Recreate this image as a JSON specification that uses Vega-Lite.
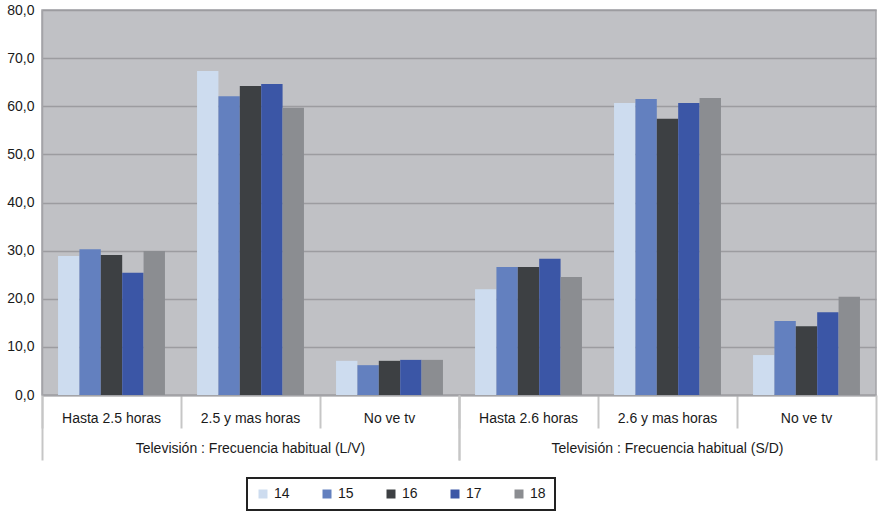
{
  "$schema": "https://vega.github.io/schema/vega-lite/v6.json",
  "width": 834,
  "height": 385,
  "autosize": {"type": "none"},
  "padding": {"left": 42, "top": 10, "right": 3, "bottom": 118},
  "background": "white",
  "config": {
    "font": "Liberation Sans",
    "view": {"fill": "#c0c1c5", "stroke": "#a3a3a7", "strokeWidth": 1.5},
    "axis": {"labelFont": "Liberation Sans", "labelFontSize": 14, "labelColor": "#1a1a1a", "title": null},
    "legend": {"strokeWidth": 2}
  },
  "data": {
    "values": [
      {"cat": "1|Hasta 2.5 horas", "grupo": "Televisión : Frecuencia habitual (L/V)", "serie": "14", "valor": 28.9},
      {"cat": "1|Hasta 2.5 horas", "grupo": "Televisión : Frecuencia habitual (L/V)", "serie": "15", "valor": 30.3},
      {"cat": "1|Hasta 2.5 horas", "grupo": "Televisión : Frecuencia habitual (L/V)", "serie": "16", "valor": 29.1},
      {"cat": "1|Hasta 2.5 horas", "grupo": "Televisión : Frecuencia habitual (L/V)", "serie": "17", "valor": 25.4},
      {"cat": "1|Hasta 2.5 horas", "grupo": "Televisión : Frecuencia habitual (L/V)", "serie": "18", "valor": 29.9},
      {"cat": "2|2.5 y mas horas", "grupo": "Televisión : Frecuencia habitual (L/V)", "serie": "14", "valor": 67.3},
      {"cat": "2|2.5 y mas horas", "grupo": "Televisión : Frecuencia habitual (L/V)", "serie": "15", "valor": 62.1},
      {"cat": "2|2.5 y mas horas", "grupo": "Televisión : Frecuencia habitual (L/V)", "serie": "16", "valor": 64.2},
      {"cat": "2|2.5 y mas horas", "grupo": "Televisión : Frecuencia habitual (L/V)", "serie": "17", "valor": 64.6},
      {"cat": "2|2.5 y mas horas", "grupo": "Televisión : Frecuencia habitual (L/V)", "serie": "18", "valor": 59.7},
      {"cat": "3|No ve tv", "grupo": "Televisión : Frecuencia habitual (L/V)", "serie": "14", "valor": 7.1},
      {"cat": "3|No ve tv", "grupo": "Televisión : Frecuencia habitual (L/V)", "serie": "15", "valor": 6.2},
      {"cat": "3|No ve tv", "grupo": "Televisión : Frecuencia habitual (L/V)", "serie": "16", "valor": 7.1},
      {"cat": "3|No ve tv", "grupo": "Televisión : Frecuencia habitual (L/V)", "serie": "17", "valor": 7.3},
      {"cat": "3|No ve tv", "grupo": "Televisión : Frecuencia habitual (L/V)", "serie": "18", "valor": 7.3},
      {"cat": "4|Hasta 2.6 horas", "grupo": "Televisión : Frecuencia habitual (S/D)", "serie": "14", "valor": 22.0},
      {"cat": "4|Hasta 2.6 horas", "grupo": "Televisión : Frecuencia habitual (S/D)", "serie": "15", "valor": 26.6},
      {"cat": "4|Hasta 2.6 horas", "grupo": "Televisión : Frecuencia habitual (S/D)", "serie": "16", "valor": 26.6},
      {"cat": "4|Hasta 2.6 horas", "grupo": "Televisión : Frecuencia habitual (S/D)", "serie": "17", "valor": 28.3},
      {"cat": "4|Hasta 2.6 horas", "grupo": "Televisión : Frecuencia habitual (S/D)", "serie": "18", "valor": 24.5},
      {"cat": "5|2.6 y mas horas", "grupo": "Televisión : Frecuencia habitual (S/D)", "serie": "14", "valor": 60.7},
      {"cat": "5|2.6 y mas horas", "grupo": "Televisión : Frecuencia habitual (S/D)", "serie": "15", "valor": 61.5},
      {"cat": "5|2.6 y mas horas", "grupo": "Televisión : Frecuencia habitual (S/D)", "serie": "16", "valor": 57.4},
      {"cat": "5|2.6 y mas horas", "grupo": "Televisión : Frecuencia habitual (S/D)", "serie": "17", "valor": 60.7},
      {"cat": "5|2.6 y mas horas", "grupo": "Televisión : Frecuencia habitual (S/D)", "serie": "18", "valor": 61.7},
      {"cat": "6|No ve tv", "grupo": "Televisión : Frecuencia habitual (S/D)", "serie": "14", "valor": 8.3},
      {"cat": "6|No ve tv", "grupo": "Televisión : Frecuencia habitual (S/D)", "serie": "15", "valor": 15.4},
      {"cat": "6|No ve tv", "grupo": "Televisión : Frecuencia habitual (S/D)", "serie": "16", "valor": 14.3},
      {"cat": "6|No ve tv", "grupo": "Televisión : Frecuencia habitual (S/D)", "serie": "17", "valor": 17.2},
      {"cat": "6|No ve tv", "grupo": "Televisión : Frecuencia habitual (S/D)", "serie": "18", "valor": 20.4}
    ]
  },
  "layer": [
    {
      "mark": {"type": "bar"},
      "encoding": {
        "x": {
          "field": "cat", "type": "nominal",
          "scale": {"type": "band", "paddingInner": 0, "paddingOuter": 0},
          "axis": {
            "orient": "bottom",
            "labelAngle": 0,
            "labelExpr": "split(datum.label, '|')[1]",
            "bandPosition": 0,
            "tickSize": 33,
            "tickColor": "#c6c6c6",
            "tickWidth": 2,
            "labelPadding": -17,
            "labelAlign": "center",
            "labelLimit": 0,
            "domainColor": "#a3a3a7",
            "domainWidth": 2
          }
        },
        "xOffset": {"field": "serie", "type": "nominal", "scale": {"type": "band", "paddingInner": 0, "paddingOuter": 0.75}},
        "y": {
          "field": "valor", "type": "quantitative",
          "scale": {"domain": [0, 80]},
          "axis": {
            "values": [0, 10, 20, 30, 40, 50, 60, 70, 80],
            "labelExpr": "replace(format(datum.value, '.1f'), '.', ',')",
            "ticks": false,
            "labelPadding": 8,
            "domainColor": "#a3a3a7",
            "domainWidth": 1.5,
            "gridColor": "#9c9ca0",
            "gridWidth": 1.5
          }
        },
        "color": {
          "field": "serie", "type": "nominal",
          "scale": {"domain": ["14", "15", "16", "17", "18"], "range": ["#cddcef", "#6380bf", "#3d4043", "#3b56a6", "#8b8d91"]},
          "legend": {
            "orient": "none",
            "legendX": 205,
            "legendY": 468,
            "direction": "horizontal",
            "columns": 5,
            "title": null,
            "symbolType": "square",
            "symbolSize": 81,
            "symbolStrokeWidth": 0,
            "labelFont": "Liberation Sans",
            "labelFontSize": 14,
            "labelColor": "#1a1a1a",
            "labelOffset": 4,
            "columnPadding": 30,
            "padding": 9,
            "strokeColor": "#222222",
            "fillColor": "white"
          }
        }
      }
    },
    {
      "mark": {"type": "text", "text": ""},
      "encoding": {
        "x": {
          "field": "grupo", "type": "nominal",
          "scale": {"type": "band", "paddingInner": 0, "paddingOuter": 0},
          "axis": {
            "orient": "bottom",
            "labelAngle": 0,
            "bandPosition": 0,
            "tickSize": 65,
            "tickColor": "#c6c6c6",
            "tickWidth": 2,
            "labelPadding": -19,
            "labelLimit": 0,
            "domain": false
          }
        }
      }
    },
    {
      "mark": {"type": "text", "text": ""},
      "encoding": {
        "x": {
          "field": "grupo", "type": "nominal",
          "scale": {"type": "band", "paddingInner": 0, "paddingOuter": 0},
          "axis": {
            "orient": "bottom",
            "labels": false,
            "bandPosition": 1,
            "tickSize": 65,
            "tickColor": "#c6c6c6",
            "tickWidth": 2,
            "domain": false
          }
        }
      }
    }
  ],
  "resolve": {"scale": {"x": "independent"}, "axis": {"x": "independent"}}
}
